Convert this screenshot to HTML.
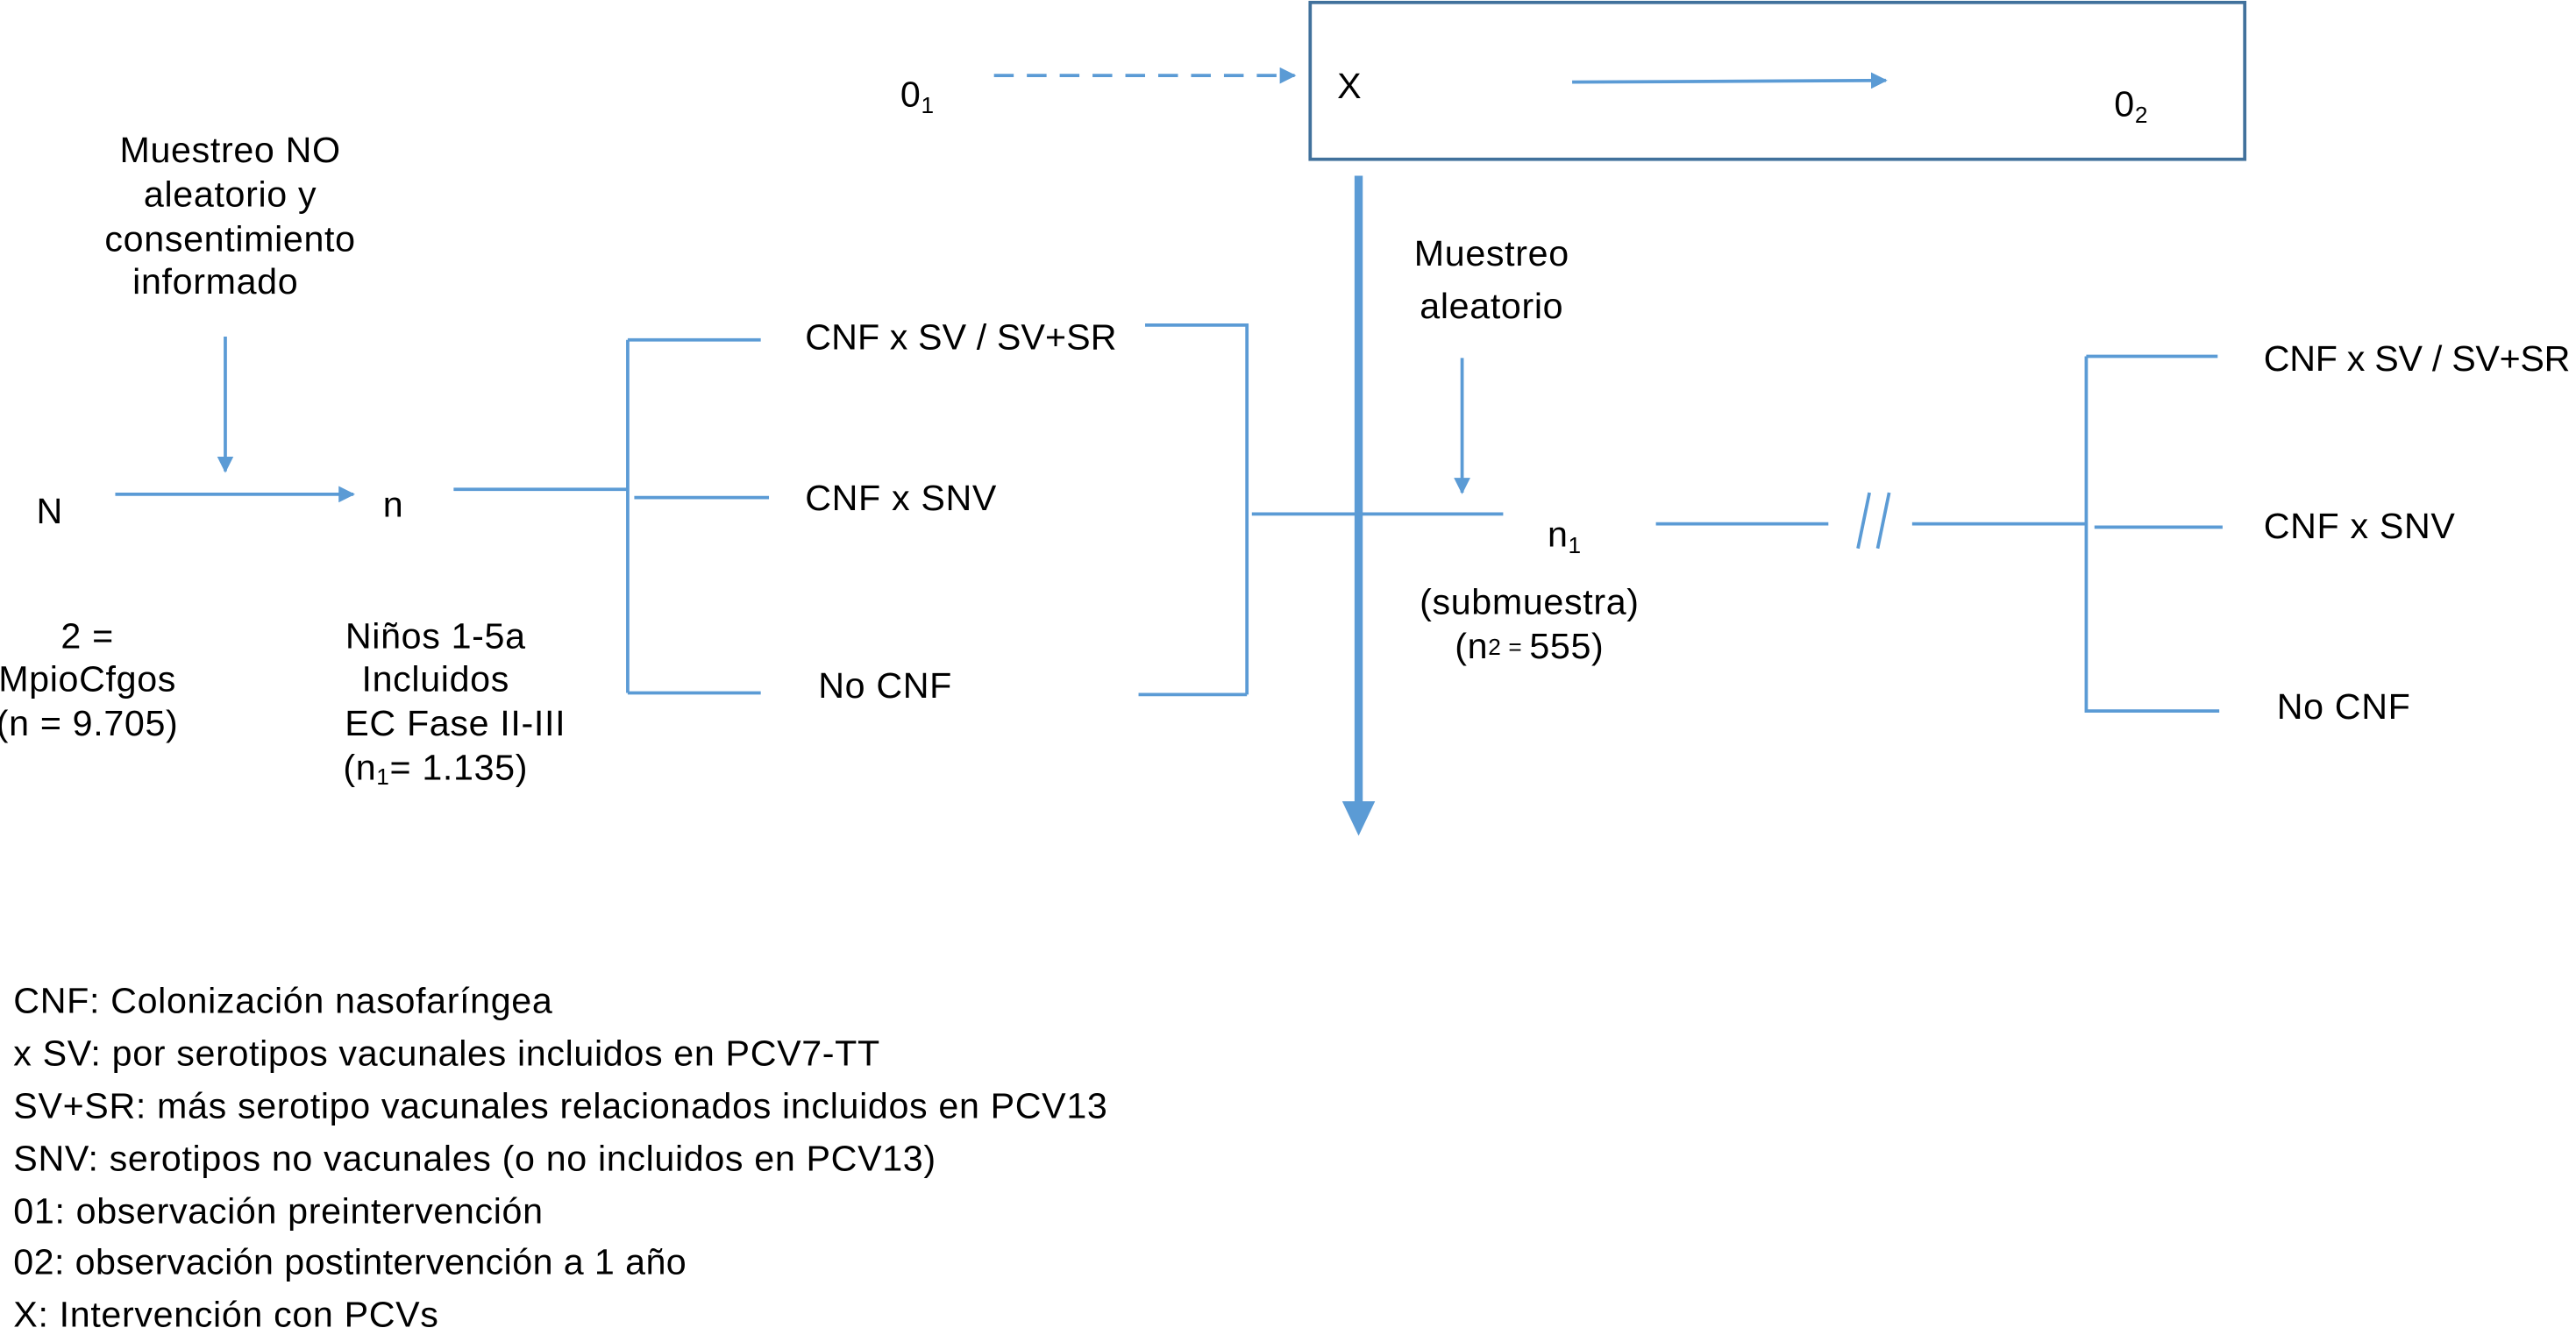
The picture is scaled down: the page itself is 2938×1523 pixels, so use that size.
<!DOCTYPE html>
<html><head><meta charset="utf-8"><style>html,body{margin:0;padding:0;background:#fff}svg{display:block}</style></head>
<body>
<svg width="2938" height="1523" viewBox="0 0 1568 813" xmlns="http://www.w3.org/2000/svg" font-family="Liberation Sans, sans-serif" font-size="22" letter-spacing="0.35" fill="#000">
<defs>
<marker id="a" viewBox="0 0 10 10" refX="9" refY="5" markerWidth="5" markerHeight="5" orient="auto"><path d="M0,0L10,5L0,10z" fill="#5b9bd5"/></marker>
</defs>
<g stroke="#5b9bd5" stroke-width="2" fill="none">
<rect x="797.5" y="1.5" width="569" height="95.5" stroke="#41719c"/>
<line x1="605" y1="46" x2="788" y2="46" stroke-dasharray="12,8" marker-end="url(#a)"/>
<line x1="957" y1="50" x2="1148" y2="49" marker-end="url(#a)"/>
<line x1="827" y1="107" x2="827" y2="492" stroke-width="5"/>
<path d="M817,488L837,488L827,509z" fill="#5b9bd5" stroke="none"/>
<line x1="137" y1="205" x2="137" y2="287" marker-end="url(#a)"/>
<line x1="70" y1="301" x2="215" y2="301" marker-end="url(#a)"/>
<line x1="276" y1="298" x2="382" y2="298"/>
<line x1="382" y1="207" x2="382" y2="422"/>
<line x1="382" y1="207" x2="463" y2="207"/>
<line x1="386" y1="303" x2="468" y2="303"/>
<line x1="382" y1="422" x2="463" y2="422"/>
<line x1="697" y1="198" x2="760" y2="198"/>
<line x1="693" y1="423" x2="759" y2="423"/>
<line x1="759" y1="198" x2="759" y2="423"/>
<line x1="762" y1="313" x2="915" y2="313"/>
<line x1="890" y1="218" x2="890" y2="300" marker-end="url(#a)"/>
<line x1="1008" y1="319" x2="1113" y2="319"/>
<line x1="1138" y1="300" x2="1131" y2="334"/>
<line x1="1150" y1="300" x2="1143" y2="334"/>
<line x1="1164" y1="319" x2="1270" y2="319"/>
<line x1="1270" y1="217" x2="1270" y2="434"/>
<line x1="1270" y1="217" x2="1350" y2="217"/>
<line x1="1275" y1="321" x2="1353" y2="321"/>
<line x1="1270" y1="433" x2="1351" y2="433"/>
</g>
<g dominant-baseline="middle">
<text x="548" y="59">0<tspan font-size="14" dy="6">1</tspan></text>
<text x="814" y="54">X</text>
<text x="1287" y="65">0<tspan font-size="14" dy="6">2</tspan></text>
<g text-anchor="middle">
<text x="140" y="93">Muestreo NO</text>
<text x="140" y="120">aleatorio y</text>
<text x="140" y="147">consentimiento</text>
<text x="131" y="173">informado</text>
<text x="53" y="389">2 =</text>
<text x="53" y="415">MpioCfgos</text>
<text x="53" y="442">(n = 9.705)</text>
<text x="265" y="389">Niños 1-5a</text>
<text x="265" y="415">Incluidos</text>
<text x="277" y="442">EC Fase II-III</text>
<text x="265" y="469">(n<tspan font-size="14" dy="5">1</tspan><tspan dy="-5">= 1.135)</tspan></text>
<text x="908" y="156">Muestreo</text>
<text x="908" y="188">aleatorio</text>
<text x="931" y="368">(submuestra)</text>
<text x="931" y="395">(n<tspan font-size="14">2 = </tspan>555)</text>
</g>
<text x="22" y="313">N</text>
<text x="233" y="309">n</text>
<text x="490" y="207" textLength="190">CNF x SV / SV+SR</text>
<text x="490" y="305">CNF x SNV</text>
<text x="498" y="419">No CNF</text>
<text x="942" y="327">n<tspan font-size="14" dy="6">1</tspan></text>
<text x="1378" y="220" textLength="187">CNF x SV / SV+SR</text>
<text x="1378" y="322">CNF x SNV</text>
<text x="1386" y="432">No CNF</text>
<text x="8" y="611">CNF: Colonización nasofaríngea</text>
<text x="8" y="643">x SV: por serotipos vacunales incluidos en PCV7-TT</text>
<text x="8" y="675">SV+SR: más serotipo vacunales relacionados incluidos en PCV13</text>
<text x="8" y="707">SNV: serotipos no vacunales (o no incluidos en PCV13)</text>
<text x="8" y="739">01: observación preintervención</text>
<text x="8" y="770" textLength="410">02: observación postintervención a 1 año</text>
<text x="8" y="802">X: Intervención con PCVs</text>
</g>
</svg>
</body></html>
